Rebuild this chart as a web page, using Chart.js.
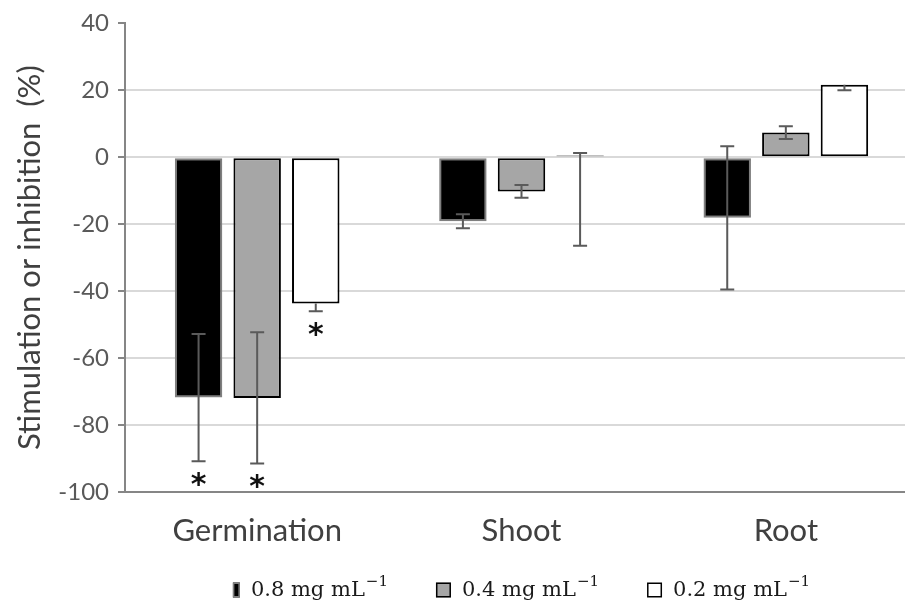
<!DOCTYPE html>
<html>
<head>
<meta charset="utf-8">
<script src="https://cdn.jsdelivr.net/npm/chart.js@4/dist/chart.umd.min.js"></script>
<style>
  html, body { margin: 0; padding: 0; background: #fff; overflow: hidden; }
  #wrap { width: 920px; height: 606px; }
</style>
</head>
<body>
<div id="wrap"><canvas id="c" width="920" height="606"></canvas></div>
<script>
// ---- data ----
const categories = ['Germination', 'Shoot', 'Root'];
const seriesLabels = ['0.8 mg mL', '0.4 mg mL', '0.2 mg mL'];
const unitSuperscript = '\u22121';

const values08 = [-71.8, -19.1, -18.1];
const values04 = [-71.9, -10.2, 7.4];
const values02 = [-43.7, 0.5, 21.7];

const errPlus08  = [19.0, 2.1, 21.4];
const errMinus08 = [19.0, 2.1, 21.4];
const errPlus04  = [19.6, 1.9, 1.9];
const errMinus04 = [19.6, 1.9, 1.9];
const errPlus02  = [0, 0.8, 0];
const errMinus02 = [2.3, 26.9, 1.7];

const sig08 = [true, false, false];
const sig04 = [true, false, false];
const sig02 = [true, false, false];

const yTicks = [40, 20, 0, -20, -40, -60, -80, -100];
const yTitle = 'Stimulation or inhibition  (%)';

// ---- chart ----
const SANS = 'Lato, "Open Sans", sans-serif';
const SERIF = '"DejaVu Serif", "Liberation Serif", serif';

const errPlus = [errPlus08, errPlus04, errPlus02];
const errMinus = [errMinus08, errMinus04, errMinus02];
const sig = [sig08, sig04, sig02];

const errorBarPlugin = {
  id: 'errorBars',
  afterDatasetsDraw(chart) {
    const ctx = chart.ctx;
    const ys = chart.scales.y;
    ctx.save();
    chart.data.datasets.forEach((ds, i) => {
      const meta = chart.getDatasetMeta(i);
      meta.data.forEach((bar, j) => {
        const v = ds.data[j];
        const p = errPlus[i][j], m = errMinus[i][j];
        const x = bar.x;
        const yTop = ys.getPixelForValue(v + p);
        const yBot = ys.getPixelForValue(v - m);
        ctx.strokeStyle = '#5a5a5a';
        ctx.lineWidth = 2;
        ctx.beginPath();
        ctx.moveTo(x, yTop); ctx.lineTo(x, yBot);
        if (p > 0) { ctx.moveTo(x - 7, yTop); ctx.lineTo(x + 7, yTop); }
        if (m > 0) { ctx.moveTo(x - 7, yBot); ctx.lineTo(x + 7, yBot); }
        ctx.stroke();
        if (sig[i][j]) {
          ctx.fillStyle = '#111';
          ctx.font = 'bold 30px "DejaVu Sans"';
          ctx.textAlign = 'center';
          ctx.textBaseline = 'alphabetic';
          const mt = ctx.measureText('*');
          const off = (mt.actualBoundingBoxAscent - mt.actualBoundingBoxDescent) / 2;
          ctx.fillText('*', x, yBot + 18 + off);
        }
      });
    });
    ctx.restore();
  }
};

const legendPlugin = {
  id: 'customLegend',
  afterDraw(chart) {
    const ctx = chart.ctx;
    const area = chart.chartArea;
    const y = 590;
    const boxW = [7, 15, 15], boxH = 15;
    const gapBox = 11, gapItem = 48;
    ctx.save();
    const mainFont = '21px ' + SERIF;
    const supFont = '15px ' + SERIF;
    const widths = seriesLabels.map(t => {
      ctx.font = mainFont; const a = ctx.measureText(t).width;
      ctx.font = supFont; const b = ctx.measureText(unitSuperscript).width;
      return a + 1 + b;
    });
    let total = 0;
    widths.forEach((w, i) => { total += boxW[i] + gapBox + w; });
    total += gapItem * (widths.length - 1);
    let x = (area.left + area.right) / 2 - total / 2;
    chart.data.datasets.forEach((ds, i) => {
      ctx.fillStyle = ds.backgroundColor;
      ctx.fillRect(x, y - boxH / 2, boxW[i], boxH);
      ctx.strokeStyle = ds.borderColor;
      ctx.lineWidth = 1.5;
      ctx.strokeRect(x + 0.75, y - boxH / 2 + 0.75, boxW[i] - 1.5, boxH - 1.5);
      x += boxW[i] + gapBox;
      ctx.fillStyle = '#1a1a1a';
      ctx.textAlign = 'left';
      ctx.textBaseline = 'middle';
      ctx.font = mainFont;
      ctx.fillText(seriesLabels[i], x, y + 1);
      const a = ctx.measureText(seriesLabels[i]).width;
      ctx.font = supFont;
      ctx.fillText(unitSuperscript, x + a + 1, y - 8);
      x += widths[i] + gapItem;
    });
    ctx.restore();
  }
};

new Chart(document.getElementById('c'), {
  type: 'bar',
  data: {
    labels: categories,
    datasets: [
      { label: seriesLabels[0], data: values08, backgroundColor: '#000000', borderColor: '#7f7f7f' },
      { label: seriesLabels[1], data: values04, backgroundColor: '#a6a6a6', borderColor: '#000000' },
      { label: seriesLabels[2], data: values02, backgroundColor: '#ffffff', borderColor: '#000000' }
    ]
  },
  options: {
    responsive: false,
    animation: false,
    devicePixelRatio: 1,
    layout: { padding: { top: 20, right: 2, left: 0, bottom: 44 } },
    datasets: {
      bar: { borderWidth: 2, borderSkipped: false, categoryPercentage: 0.665, barPercentage: 0.81 }
    },
    plugins: { legend: { display: false }, tooltip: { enabled: false } },
    scales: {
      x: {
        grid: { display: false },
        border: { display: true, color: '#868686', width: 2 },
        ticks: { color: '#404040', font: { family: SANS, size: 31 }, padding: 12 },
        afterFit(axis) { axis.height = 70; }
      },
      y: {
        min: -100, max: 40,
        afterBuildTicks(axis) { axis.ticks = yTicks.map(v => ({ value: v })); },
        grid: {
          color: c => (c.tick && c.tick.value === 40) ? 'rgba(0,0,0,0)' : '#d9d9d9',
          lineWidth: 2,
          drawTicks: true,
          tickLength: 7,
          tickColor: '#868686',
          tickWidth: 2
        },
        border: { display: true, color: '#868686', width: 2 },
        ticks: { color: '#595959', font: { family: SANS, size: 24 }, padding: 9 },
        title: {
          display: true, text: yTitle, color: '#404040',
          font: { family: SANS, size: 31 }, padding: { top: 11, bottom: 0 }
        },
        afterFit(axis) { axis.width = 125; }
      }
    }
  },
  plugins: [errorBarPlugin, legendPlugin]
});
</script>
</body>
</html>
